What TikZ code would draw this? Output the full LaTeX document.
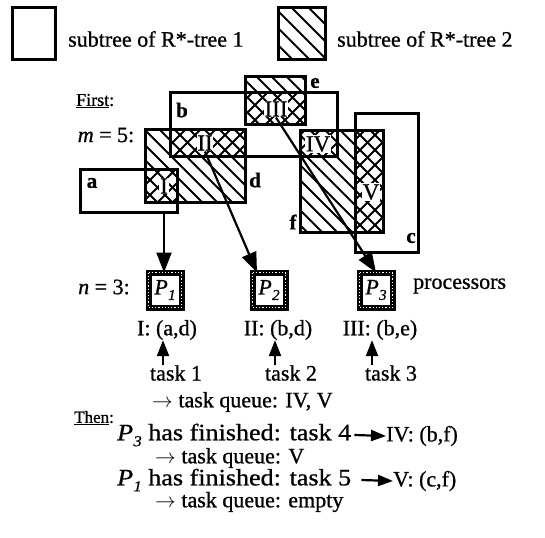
\documentclass[tikz,border=0pt]{standalone}
\usepackage{fontspec}
\usepackage{graphicx}
\setmainfont{Liberation Serif}[FakeBold=0.8]
\usetikzlibrary{arrows.meta,calc}
\newcommand\procP[1]{\textit{P}\kern0.3pt\raisebox{-0.25em}{\fontsize{15}{15}\selectfont\textit{#1}}}
\newcommand\myhatchlines{\foreach \k in {-600,-585,...,600} \draw[hatch] (\k,0) -- ++(600,600);}
\newcommand\mylegendlines{\foreach \k in {-600,-583,...,600} \draw[hatch] (\k,0) -- ++(600,600);}
\newcommand\mycrosslines{\foreach \k in {0,15,...,1200} \draw[hatch] (\k,0) -- ++(-600,600);}
\begin{document}
\begin{tikzpicture}[x=1pt,y=-1pt,
  font=\fontsize{22}{26}\selectfont,
  txt/.style={inner sep=0pt},
  rectbox/.style={draw,line width=3pt,inner sep=0pt,outer sep=0pt,anchor=north west},
  hatch/.style={line width=2.1pt},
  lbl/.style={inner sep=0pt,font=\fontsize{21}{24}\selectfont\bfseries},
  roman/.style={inner sep=0.8pt,fill=white,font=\fontsize{23}{26}\selectfont},
  procbox/.style={draw,line width=6pt,minimum width=33pt,minimum height=35pt,inner sep=0pt,outer sep=0pt},
  bigarrow/.style={line width=2.2pt,-{Triangle[length=20pt,width=15pt]}},
  uparrow/.style={line width=2.2pt,-{Triangle[length=16pt,width=12pt]}},
  inarrow/.style={line width=2.2pt,-{Triangle[length=15pt,width=11pt]}}]
\useasboundingbox (0,0) rectangle (545,537);
\fill[white] (0,0) rectangle (545,537);
% legend
\node[rectbox,minimum width=43pt,minimum height=52pt] (leg1) at (12,8) {};
\node[rectbox,minimum width=47pt,minimum height=52pt] (leg2) at (278,8) {};
\begin{scope}\clip (leg2.north west) rectangle (leg2.south east); \mylegendlines\end{scope}
\node[txt,anchor=west] (legt1) at (68,39) {subtree of R*-tree 1};
\node[txt,anchor=west] (legt2) at (337,39) {subtree of R*-tree 2};
% rectangles
\node[rectbox,minimum width=60pt,minimum height=48pt] (e) at (245,77) {};
\node[rectbox,minimum width=167pt,minimum height=64pt] (b) at (170,93) {};
\node[rectbox,minimum width=100pt,minimum height=72pt] (d) at (145,130) {};
\node[rectbox,minimum width=97pt,minimum height=42pt] (a) at (80,170) {};
\node[rectbox,minimum width=83pt,minimum height=101pt] (f) at (300,131) {};
\node[rectbox,minimum width=63pt,minimum height=138pt] (c) at (355,114) {};
\foreach \r in {e,d,f} {\begin{scope}\clip (\r.north west) rectangle (\r.south east); \myhatchlines\end{scope}}
\foreach \p/\q in {a/d,b/d,b/e,b/f,c/f} {\begin{scope}\clip (\p.north west) rectangle (\p.south east); \clip (\q.north west) rectangle (\q.south east); \mycrosslines\end{scope}}
% letter labels
\node[lbl] (la) at (92,183) {a};
\node[lbl] (lb) at (182,110) {b};
\node[lbl] (ld) at (255,180) {d};
\node[lbl] (le) at (315,83) {e};
\node[lbl] (lf) at (293,222) {f};
\node[lbl] (lc) at (411,238) {c};
\node[roman] (I) at (164,186) {I};
\node[roman] (II) at (205,143) {II};
\node[roman] (III) at (276,109) {III};
\node[roman] (IV) at (318,144) {IV};
\node[roman] (V) at (371,192) {V};
% left labels
\node[txt,anchor=west,font=\fontsize{18}{20}\selectfont] (first) at (76,101) {\underline{First}:};
\node[txt] (m5) at (106,135) {\textit{m} = 5:};
\node[txt] (n3) at (104,287) {\textit{n} = 3:};
% processors
\node[procbox] (p1) at (165,290) {\procP{1}};
\node[procbox] (p2) at (269,290) {\procP{2}};
\node[procbox] (p3) at (376,290) {\procP{3}};
\foreach \n in {p1,p2,p3} \draw[white,line width=1.2pt,dash pattern=on 1.2pt off 2pt] (\n.north west) rectangle (\n.south east);
\node[txt,anchor=west] (proc) at (413,286) {processors};
% arrows to processors
\draw[bigarrow] (I.south |- a.south) -- (I.south |- p1.north);
\draw[bigarrow] (II.south) -- ([xshift=-12pt]p2.north);
\draw[bigarrow] (III.south) -- (p3.north);
% assignments
\node[txt] (lab1) at (167,330) {I: (a,d)};
\node[txt] (lab2) at (278,330) {II: (b,d)};
\node[txt] (lab3) at (380,330) {III: (b,e)};
\node[txt] (task1) at (176,373) {task 1};
\node[txt] (task2) at (291,373) {task 2};
\node[txt] (task3) at (391,373) {task 3};
\draw[uparrow] ([xshift=-13pt]task1.north) -- ([xshift=-13pt]task1.north |- lab1.south);
\draw[uparrow] ([xshift=-16pt]task2.north) -- ([xshift=-16pt]task2.north |- lab2.south);
\draw[uparrow] ([xshift=-19pt]task3.north) -- ([xshift=-19pt]task3.north |- lab3.south);
\node[txt,anchor=west] (q1) at (152,402) {$\rightarrow$ task queue: IV, V};
% then
\node[txt,anchor=west,font=\fontsize{17}{19}\selectfont] (then) at (74,418) {\underline{Then}:};
\node[txt,anchor=west,font=\fontsize{23.5}{26}\selectfont] (l1) at (117,435) {\resizebox{234pt}{\height}{\procP{3} has finished: task 4}};
\node[txt,anchor=west] (r1) at (386,436) {IV: (b,f)};
\draw[inarrow] ([xshift=3pt]l1.east) -- (r1.west);
\node[txt,anchor=west] (q2) at (155,458) {$\rightarrow$ task queue: V};
\node[txt,anchor=west,font=\fontsize{23.5}{26}\selectfont] (l2) at (117,480) {\resizebox{234pt}{\height}{\procP{1} has finished: task 5}};
\node[txt,anchor=west] (r2) at (393,481) {V: (c,f)};
\draw[inarrow] ([xshift=10pt]l2.east) -- (r2.west);
\node[txt,anchor=west] (q3) at (155,502) {$\rightarrow$ task queue: empty};
\end{tikzpicture}
\end{document}
